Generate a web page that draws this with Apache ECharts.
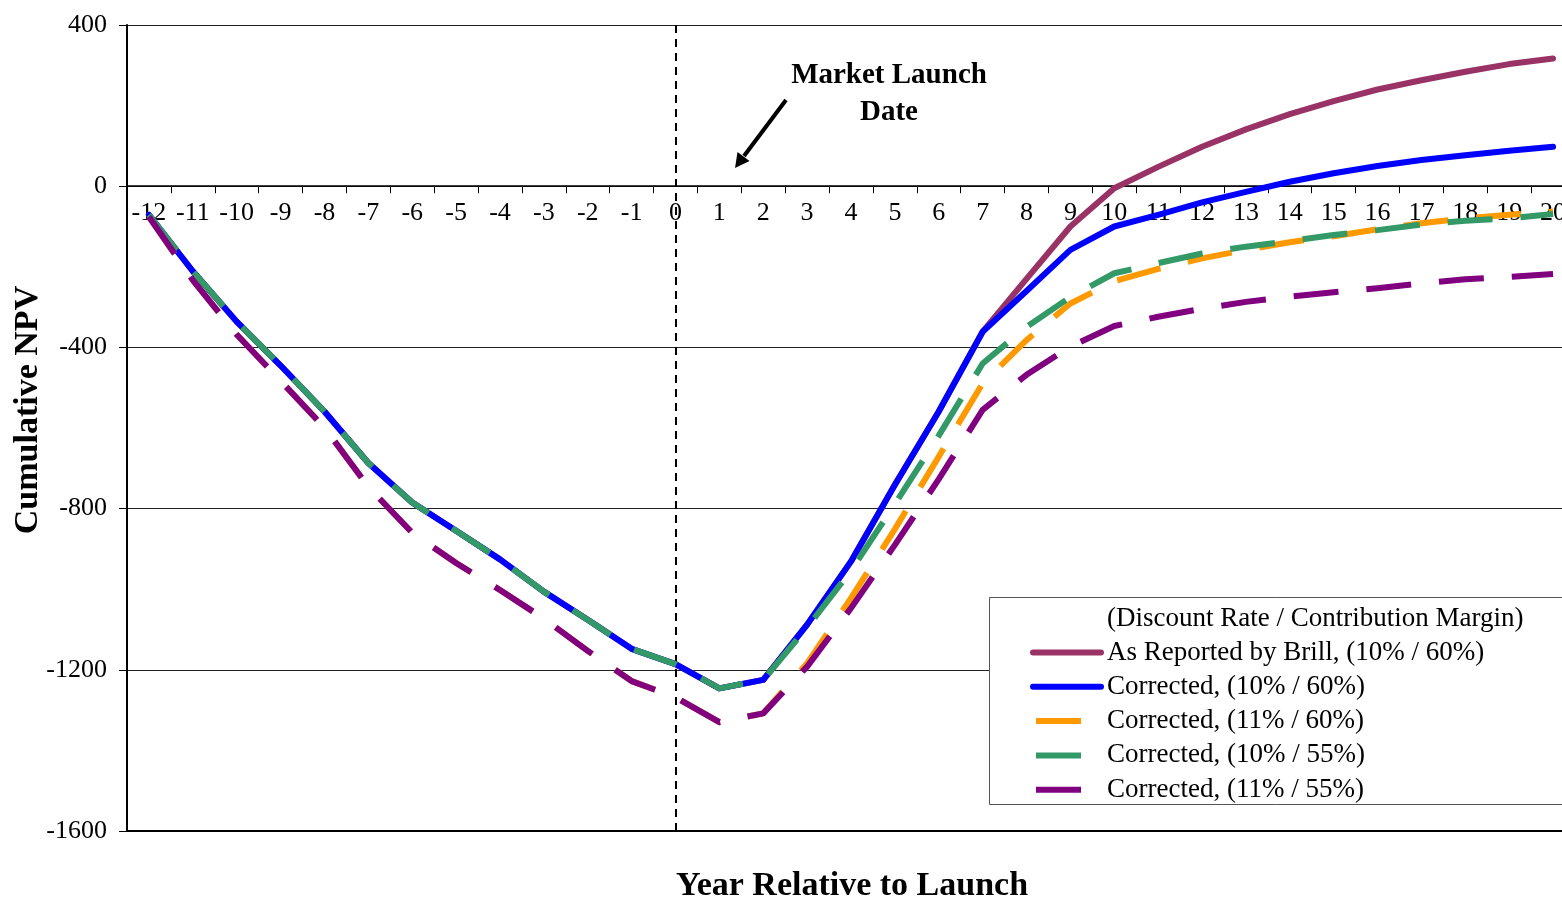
<!DOCTYPE html>
<html>
<head>
<meta charset="utf-8">
<script src="https://cdn.jsdelivr.net/npm/echarts@6/dist/echarts.min.js"></script>
<style>
  html, body { margin: 0; padding: 0; background: #fff; }
  #chart { width: 1562px; height: 899px; }
</style>
</head>
<body>
<div id="chart"></div>
<script>
const years = ['-12','-11','-10','-9','-8','-7','-6','-5','-4','-3','-2','-1','0','1','2','3','4','5','6','7','8','9','10','11','12','13','14','15','16','17','18','19','20'];

const brill_10_60 = [-71,-211,-336,-445,-559,-687,-785,-855,-926,-1006,-1076,-1148,-1186,-1246,-1225,-1088,-931,-741,-559,-361,-230,-100,-5,48,98,141,179,211,240,263,284,303,317];
const corr_10_60 = [-71,-211,-336,-445,-559,-687,-785,-855,-926,-1006,-1076,-1148,-1186,-1246,-1225,-1088,-931,-741,-559,-361,-260,-158,-100,-71,-40,-14,11,32,50,65,77,88,98];
const corr_11_60 = [-76,-233,-368,-483,-599,-746,-860,-935,-1002,-1073,-1153,-1228,-1268,-1330,-1308,-1184,-1022,-851,-671,-489,-382,-291,-236,-205,-179,-158,-139,-124,-107,-92,-80,-71,-63];
const corr_10_55 = [-71,-211,-336,-445,-559,-687,-785,-855,-926,-1006,-1076,-1148,-1186,-1246,-1225,-1095,-954,-789,-619,-440,-349,-275,-216,-191,-167,-150,-136,-121,-109,-95,-86,-80,-69];
const corr_11_55 = [-76,-233,-368,-483,-599,-746,-860,-935,-1002,-1073,-1153,-1228,-1268,-1330,-1308,-1192,-1047,-890,-727,-555,-468,-398,-347,-324,-304,-287,-274,-263,-253,-241,-231,-225,-218];

const seriesNames = [
  'As Reported by Brill, (10% / 60%)',
  'Corrected, (10% / 60%)',
  'Corrected, (11% / 60%)',
  'Corrected, (10% / 55%)',
  'Corrected, (11% / 55%)'
];
const seriesColors = ['#993366', '#0000FF', '#FF9900', '#339966', '#800080'];
const seriesData = [brill_10_60, corr_10_60, corr_11_60, corr_10_55, corr_11_55];
const dashed = [false, false, true, true, true];
const yTicks = { min: -1600, max: 400, interval: 400 };
const launchYear = '0';

const FONT = "'Liberation Serif', 'Times New Roman', serif";
const DASH = [45, 28];

const GRID = { left: 127, right: -13, top: 25, bottom: 68 };
const CHART_H = 899;
const plotH = CHART_H - GRID.top - GRID.bottom;
// raise the category axis from the plot bottom up to the value 0
const zeroOffset = -plotH * (0 - yTicks.min) / (yTicks.max - yTicks.min);

const chart = echarts.init(document.getElementById('chart'), null, { renderer: 'canvas' });

const series = seriesNames.map((name, i) => ({
  name: name,
  type: 'line',
  data: seriesData[i],
  symbol: 'none',
  showSymbol: false,
  smooth: false,
  z: 2 + i,
  lineStyle: {
    color: seriesColors[i],
    width: 6,
    type: dashed[i] ? DASH : 'solid',
    cap: dashed[i] ? 'butt' : 'round',
    join: 'round'
  },
  itemStyle: { color: seriesColors[i] },
  emphasis: { disabled: true }
}));
series[0].markLine = {
  silent: true,
  symbol: 'none',
  label: { show: false },
  lineStyle: { color: '#000', width: 2, type: [8, 6] },
  data: [{ xAxis: launchYear }]
};
series[1].markLine = {
  silent: true,
  symbol: 'none',
  label: { show: false },
  lineStyle: { color: '#000', width: 2, type: 'solid' },
  data: [{ yAxis: yTicks.min }]
};

const legendData = seriesNames.map((name, i) => ({
  name: name,
  lineStyle: dashed[i] ? { type: DASH, cap: 'butt', width: 6, dashOffset: -3 } : { type: 'solid', cap: 'round', width: 6 }
}));

chart.setOption({
  animation: false,
  backgroundColor: '#fff',
  textStyle: { fontFamily: FONT },
  grid: { left: GRID.left, right: GRID.right, top: GRID.top, bottom: GRID.bottom, containLabel: false, outerBoundsMode: 'none' },
  xAxis: {
    type: 'category',
    data: years,
    position: 'bottom',
    offset: zeroOffset,
    boundaryGap: true,
    axisLine: { onZero: false, lineStyle: { color: '#000', width: 1.5 } },
    axisTick: { show: true, inside: false, length: 7, alignWithLabel: false, lineStyle: { color: '#000', width: 1 } },
    axisLabel: { interval: 0, color: '#000', fontSize: 26, fontFamily: FONT, margin: 14, hideOverlap: false },
    splitLine: { show: false }
  },
  yAxis: {
    type: 'value',
    min: yTicks.min,
    max: yTicks.max,
    interval: yTicks.interval,
    axisLine: { show: true, onZero: false, lineStyle: { color: '#000', width: 2 } },
    axisTick: { show: true, length: 8, lineStyle: { color: '#000', width: 1 } },
    axisLabel: { color: '#000', fontSize: 26, fontFamily: FONT, margin: 20, formatter: v => String(v) },
    splitLine: { show: true, lineStyle: { color: '#222', width: 1 } }
  },
  legend: {
    orient: 'vertical',
    left: 1030,
    top: 639,
    padding: 0,
    itemWidth: 68,
    itemHeight: 27,
    itemGap: 7.3,
    selectedMode: false,
    itemStyle: { opacity: 0 },
    lineStyle: { width: 6 },
    textStyle: { color: '#000', fontSize: 27, fontFamily: FONT, lineHeight: 27, padding: [0, 0, 0, 1] },
    data: legendData,
    z: 10
  },
  graphic: [
    {
      type: 'rect',
      z: 8,
      shape: { x: 989.5, y: 597.5, width: 600, height: 207 },
      style: { fill: '#fff', stroke: '#555', lineWidth: 1 }
    },
    {
      type: 'text',
      z: 9,
      x: 1107, y: 619,
      style: { text: '(Discount Rate / Contribution Margin)', fill: '#000', font: "27px 'Liberation Serif', 'Times New Roman', serif", textAlign: 'left', textVerticalAlign: 'middle' }
    },
    {
      type: 'text',
      z: 9,
      x: 852, y: 886,
      style: { text: 'Year Relative to Launch', fill: '#000', font: "bold 34px 'Liberation Serif', 'Times New Roman', serif", textAlign: 'center', textVerticalAlign: 'middle' }
    },
    {
      type: 'text',
      z: 9,
      x: 28, y: 410,
      rotation: Math.PI / 2,
      style: { text: 'Cumulative NPV', fill: '#000', font: "bold 34px 'Liberation Serif', 'Times New Roman', serif", textAlign: 'center', textVerticalAlign: 'middle' }
    },
    {
      type: 'text',
      z: 9,
      x: 889, y: 76,
      style: { text: 'Market Launch', fill: '#000', font: "bold 29px 'Liberation Serif', 'Times New Roman', serif", textAlign: 'center', textVerticalAlign: 'middle' }
    },
    {
      type: 'text',
      z: 9,
      x: 889, y: 113,
      style: { text: 'Date', fill: '#000', font: "bold 29px 'Liberation Serif', 'Times New Roman', serif", textAlign: 'center', textVerticalAlign: 'middle' }
    },
    {
      type: 'line',
      z: 9,
      shape: { x1: 786, y1: 100, x2: 744, y2: 156 },
      style: { stroke: '#000', lineWidth: 4 }
    },
    {
      type: 'polygon',
      z: 9,
      shape: { points: [[735, 168], [749.5, 161], [737.5, 152]] },
      style: { fill: '#000' }
    }
  ],
  series: series
});
</script>
</body>
</html>
